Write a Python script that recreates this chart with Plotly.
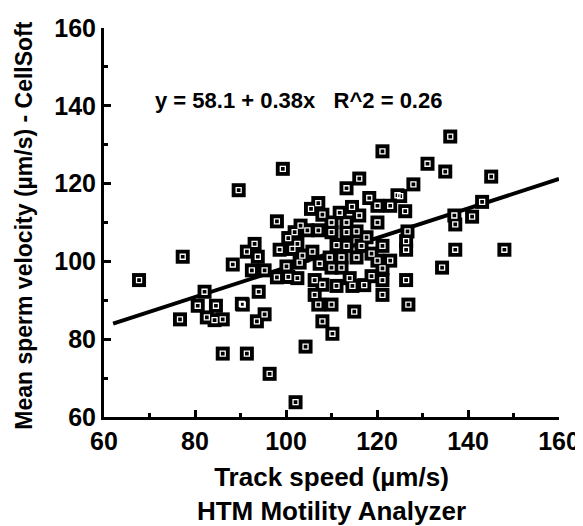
import plotly.graph_objects as go

# HTM track speed vs CellSoft mean velocity (um/s)
track_speed = [
    89.6, 77.3, 88.3, 93.1, 91.4, 93.8, 92.5, 121.2, 99.3, 116.1,
    113.3, 107.1, 118.3, 120.1, 122.9, 124.5, 98.0, 108.0, 110.0, 113.3,
    116.1, 120.1, 103.2, 104.7, 107.1, 110.0, 113.3, 115.5, 101.9, 111.1,
    113.3, 116.6, 117.7, 121.2, 98.6, 105.8, 101.4, 109.6, 112.2, 115.5,
    120.1, 122.9, 110.0, 112.2, 121.2, 103.0, 107.4, 95.3, 98.0, 102.5,
    106.3, 111.1, 114.6, 117.2, 121.2, 90.5, 94.0, 106.3, 107.1, 110.0,
    121.2, 115.0, 95.3, 93.6, 108.0, 110.2, 104.3, 91.4, 96.4, 102.1,
    67.7, 82.1, 80.6, 84.6, 90.3, 76.7, 82.6, 86.1, 84.3, 86.1,
    136.1, 131.1, 135.0, 145.1, 128.0, 125.1, 126.2, 143.1, 137.0, 140.9,
    137.2, 126.7, 126.4, 126.4, 137.2, 148.0, 134.3, 126.4, 126.9,
    105.5, 100.5, 102.5, 103.6, 100.1, 111.8, 114.5, 118.8, 100.5, 108.0,
    114.0, 118.8,
]
mean_velocity = [
    118.3, 101.2, 99.2, 104.5, 102.5, 101.2, 97.7, 128.3, 123.8, 121.3,
    118.8, 115.0, 116.3, 114.3, 114.3, 117.0, 110.3, 112.0, 110.0, 110.0,
    111.8, 110.0, 109.2, 108.0, 108.0, 107.5, 107.5, 107.7, 107.5, 104.2,
    104.0, 104.0, 106.2, 104.0, 103.0, 102.5, 103.2, 101.0, 101.0, 101.0,
    100.2, 100.2, 98.4, 98.4, 98.2, 99.7, 99.4, 97.7, 95.9, 95.7,
    95.2, 93.7, 93.7, 93.9, 95.2, 88.9, 92.2, 91.4, 88.9, 88.9,
    91.4, 87.1, 86.4, 84.6, 84.6, 81.4, 78.1, 76.3, 71.1, 63.8,
    95.2, 92.2, 88.6, 88.6, 89.1, 85.1, 85.6, 85.1, 84.9, 76.3,
    132.1, 125.1, 123.1, 121.8, 119.8, 116.8, 112.9, 115.3, 111.8, 111.5,
    109.5, 107.7, 105.2, 103.0, 103.0, 103.0, 98.4, 95.2, 88.9,
    113.5, 106.0, 104.5, 101.5, 98.7, 112.5, 114.0, 102.0, 96.0, 94.0,
    95.7, 96.2,
]

# regression line as drawn in the figure
fit_x = [62, 160]
fit_y = [84.0, 121.2]

equation = "y = 58.1 + 0.38x\u00a0\u00a0\u00a0R^2 = 0.26"

FONT = "Liberation Sans, Arial, sans-serif"

fig = go.Figure()
fig.add_trace(go.Scatter(x=fit_x, y=fit_y, mode="lines",
                         line=dict(color="black", width=4), hoverinfo="skip"))
fig.add_trace(go.Scatter(x=track_speed, y=mean_velocity, mode="markers",
                         marker=dict(symbol="square", size=14, color="black")))
# little white square in the middle of each marker
fig.add_trace(go.Scatter(x=track_speed, y=mean_velocity, mode="markers",
                         marker=dict(symbol="square-open", size=5, color="white",
                                     line=dict(color="white", width=1.3)),
                         hoverinfo="skip"))

fig.add_annotation(x=102.8, y=141.4, text=equation, showarrow=False,
                   font=dict(family=FONT, size=22, color="black", weight="bold"))

# y title as a rotated annotation so it can sit a bit lower than the axis centre
fig.add_annotation(xref="paper", yref="paper", x=-0.176, y=0.494,
                   text="Mean sperm velocity (\u00b5m/s) - CellSoft", textangle=-90,
                   showarrow=False, xanchor="center", yanchor="middle",
                   font=dict(family=FONT, size=23, color="black", weight="bold"))

axis_common = dict(showgrid=False, zeroline=False, showline=True, automargin=False,
                   linecolor="black", linewidth=3, ticklabeloverflow="allow",
                   ticks="inside", ticklen=7, tickwidth=3, tickcolor="black",
                   tickfont=dict(family=FONT, size=25, color="black", weight="bold"),
                   minor=dict(ticks="inside", dtick=10, ticklen=4, tickwidth=2.5,
                              tickcolor="black"))

fig.update_xaxes(range=[60, 160], tickvals=[60, 80, 100, 120, 140, 160],
                 title=dict(text="Track speed (\u00b5m/s)<br>HTM Motility Analyzer",
                            font=dict(family=FONT, size=26, color="black", weight="bold"),
                            standoff=15),
                 **axis_common)
fig.update_yaxes(range=[60, 160], tickvals=[60, 80, 100, 120, 140, 160],
                 **axis_common)

# the page body adds an 8px offset, so the figure is 8px smaller than the window
fig.update_layout(width=575, height=518, showlegend=False,
                  plot_bgcolor="white", paper_bgcolor="white",
                  margin=dict(l=96, r=24, t=20, b=109))

fig.write_html("out.html")
